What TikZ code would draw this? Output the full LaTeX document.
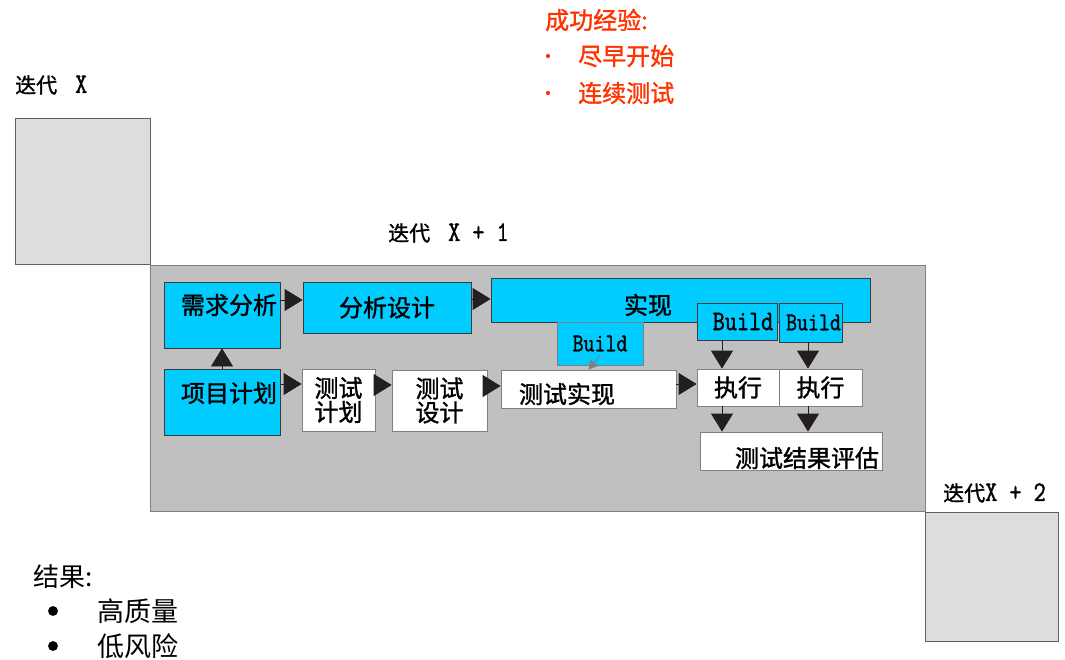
\documentclass[tikz,border=0pt]{standalone}
\usepackage{fontspec}
\usepackage{graphicx}
\setmainfont{Noto Sans CJK SC}
\newfontfamily\heavycjk{Noto Sans CJK SC}[FakeBold=1.3]
\newfontfamily\monofont{Latin Modern Mono}[FakeBold=1.6]
\newcommand{\tallmono}[1]{{\monofont\scalebox{1.12}[1.35]{#1}}}
\usetikzlibrary{arrows.meta}

\definecolor{boxcyan}{HTML}{00CCFF}
\definecolor{phasegray}{HTML}{C0C0C0}
\definecolor{itergray}{HTML}{DDDDDD}
\definecolor{darkline}{HTML}{3A3A3A}
\definecolor{headred}{HTML}{FF3300}
\definecolor{tipblack}{HTML}{231F20}

\tikzset{
  cyanbox/.style={rectangle, draw=darkline, fill=boxcyan, line width=0.8pt, inner sep=0pt},
  whitebox/.style={rectangle, draw=gray, fill=white, line width=0.8pt, inner sep=0pt, align=center},
  iterbox/.style={rectangle, draw=darkline!80, fill=itergray, line width=0.8pt, inner sep=0pt},
  arr/.style={draw=tipblack, line width=0.8pt, -{Triangle[length=18pt, width=22pt]}},
  boxtext/.style={font=\heavycjk\fontsize{24pt}{26pt}\selectfont, inner sep=0pt},
  buildtext/.style={font=\fontsize{19pt}{21pt}\selectfont},
  iterlabel/.style={anchor=west, inner sep=0pt, font=\heavycjk\fontsize{21pt}{23pt}\selectfont}
}

\begin{document}
\begin{tikzpicture}[x=1pt, y=-1pt]
\useasboundingbox (0, 0) rectangle (1065, 660);

% Iteration boxes
\node (itx) at (82.5, 191) [iterbox, minimum width=135, minimum height=146] {};
\node (itxone) at (537.5, 388) [rectangle, draw=gray, fill=phasegray, line width=0.8pt, minimum width=775, minimum height=246] {};
\node (itxtwo) at (991.5, 576.5) [iterbox, minimum width=133, minimum height=129] {};

\node (itxlbl) at (15, 85) [iterlabel] {迭代\hspace{18pt}\tallmono{X}};
\node (itxonelbl) at (388, 233) [iterlabel] {迭代\hspace{18pt}\tallmono{X + 1}};
\node (itxtwolbl) at (943, 493) [iterlabel] {迭代\tallmono{X + 2}};

% Upper row
\node (req) at (222, 315) [cyanbox, minimum width=116, minimum height=66] {};
\node (reqtxt) at (229, 305) [boxtext] {需求分析};
\node (ana) at (387, 307.5) [cyanbox, minimum width=168, minimum height=51, boxtext] {\raisebox{-4pt}{分析设计}};
\node (impl) at (680.5, 300) [cyanbox, minimum width=379, minimum height=44] {};
\node (impltxt) at (648, 305) [boxtext] {实现};

% Builds
\node (bldone) at (600, 343.5) [cyanbox, draw=gray, minimum width=86, minimum height=43, buildtext] {\raisebox{-3pt}{\tallmono{Build}}};
\node (bldtwo) at (737, 321.5) [cyanbox, minimum width=80, minimum height=37, buildtext, font=\fontsize{21pt}{23pt}\selectfont] {\raisebox{-8pt}{\hspace{12pt}\tallmono{Build}}};
\node (bldthree) at (810.5, 322.5) [cyanbox, minimum width=63, minimum height=39, buildtext] {\raisebox{-6pt}{\hspace{6pt}\tallmono{Build}}};

% Lower row
\node (plan) at (222, 402) [cyanbox, minimum width=116, minimum height=66] {};
\node (plantxt) at (229, 393) [boxtext] {项目计划};
\node (tplan) at (338.5, 400) [whitebox, minimum width=73, minimum height=62, boxtext] {测试\\[-2pt]计划};
\node (tdes) at (439.5, 400.5) [whitebox, minimum width=95, minimum height=61, boxtext] {测试\\[-2pt]设计};
\node (timp) at (588.5, 389) [whitebox, minimum width=175, minimum height=38] {};
\node (timptxt) at (567, 394) [boxtext] {测试实现};
\node (exeone) at (738, 387.5) [whitebox, minimum width=82, minimum height=37, boxtext] {\raisebox{-5pt}{执行}};
\node (exetwo) at (820.5, 387.5) [whitebox, minimum width=83, minimum height=37, boxtext] {\raisebox{-5pt}{执行}};
\node (eval) at (791, 451) [whitebox, minimum width=182, minimum height=38] {};
\node (evaltxt) at (807, 458) [boxtext] {测试结果评估};

% Arrows
\draw[arr] (plan.north) -- (req.south);
\draw[arr] ([yshift=15pt]req.east) -- ([yshift=7.5pt]ana.west);
\draw[arr] ([yshift=8.5pt]ana.east) -- ([yshift=1pt]impl.west);
\draw[arr] ([yshift=18pt]plan.east) -- ([yshift=16pt]tplan.west);
\draw[arr] ([yshift=15pt]tplan.east) -- ([yshift=15.5pt]tdes.west);
\draw[arr] ([yshift=14.5pt]tdes.east) -- ([yshift=3pt]timp.west);
\draw[arr] ([yshift=5pt]timp.east) -- ([yshift=3.5pt]exeone.west);
\draw[gray, line width=0.8pt, -{Triangle[length=9pt, width=10pt]}] ([yshift=10pt]bldone.south) -- (timp.north);
\draw[arr] ([xshift=-15pt]bldtwo.south) -- ([xshift=-16pt]exeone.north);
\draw[arr] ([xshift=-2.5pt]bldthree.south) -- ([xshift=-12.5pt]exetwo.north);
\draw[arr] ([xshift=-16pt]exeone.south) -- ([xshift=-69pt]eval.north);
\draw[arr] ([xshift=-12.5pt]exetwo.south) -- ([xshift=17pt]eval.north);

% Lessons learned
\node (lesson) at (545, 20) [anchor=west, inner sep=0pt, text=headred, font=\heavycjk\fontsize{24pt}{26pt}\selectfont] {成功经验:};
\node (lessonone) at (578, 56) [anchor=west, inner sep=0pt, text=headred, font=\heavycjk\fontsize{24pt}{26pt}\selectfont] {尽早开始};
\node (lessontwo) at (578, 93) [anchor=west, inner sep=0pt, text=headred, font=\heavycjk\fontsize{24pt}{26pt}\selectfont] {连续测试};
\node (dotone) at (548, 56) [circle, fill=headred, inner sep=1.5pt] {};
\node (dottwo) at (548, 93) [circle, fill=headred, inner sep=1.5pt] {};

% Results
\node (result) at (33, 577) [anchor=west, inner sep=0pt, font=\fontsize{26pt}{28pt}\selectfont] {结果:};
\node (resone) at (97, 611) [anchor=west, inner sep=0pt, font=\fontsize{27pt}{29pt}\selectfont] {高质量};
\node (restwo) at (97, 646) [anchor=west, inner sep=0pt, font=\fontsize{27pt}{29pt}\selectfont] {低风险};
\node (bulone) at (53, 611) [circle, fill, inner sep=3.5pt] {};
\node (bultwo) at (53, 646) [circle, fill, inner sep=3.5pt] {};

\end{tikzpicture}
\end{document}
